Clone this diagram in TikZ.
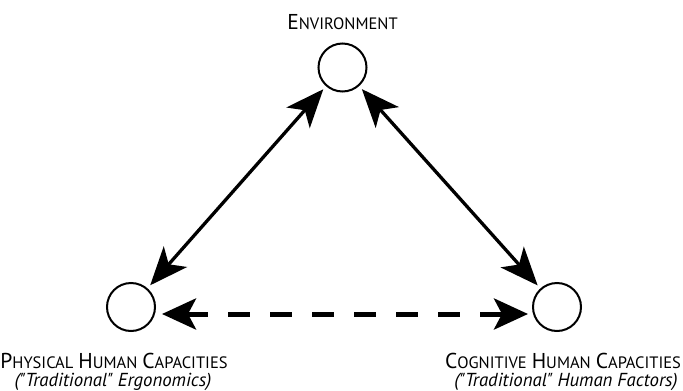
\documentclass[tikz,border=0pt]{standalone}
\usepackage{fontspec}
\setmainfont{PT Sans}
\usetikzlibrary{arrows.meta}
\newcommand\bigc[1]{{\fontsize{21.5}{24}\selectfont #1}}
\newcommand\smc[1]{{\fontsize{16.5}{20}\selectfont #1}}
\begin{document}
\begin{tikzpicture}[x=1pt,y=-1pt,
  circ/.style={circle,draw,line width=2pt,minimum size=48pt,inner sep=0pt},
  lbl/.style={inner sep=0pt,align=center,font=\fontsize{18.8}{22}\selectfont},
  solidarrow/.style={line width=3.3pt,{Stealth[length=38pt,width=31pt,inset=10pt]}-{Stealth[length=38pt,width=31pt,inset=10pt]},shorten <=4pt,shorten >=4pt},
  dasharrow/.style={line width=5pt,dash pattern=on 22pt off 20pt,{Stealth[length=34pt,width=31pt,inset=8pt]}-{Stealth[length=34pt,width=31pt,inset=8pt]}}]
\useasboundingbox (0,0) rectangle (683,391);
\node[circ] (E) at (342.5,67.5) {};
\node[circ] (P) at (131,307) {};
\node[circ] (C) at (557,307) {};
\node[lbl,anchor=base] (Et) at (342.5,29) {\bigc{E}\smc{NVIRONMENT}};
\node[lbl,anchor=base] (Pt) at (114,368) {\bigc{P}\smc{HYSICAL} \bigc{H}\smc{UMAN} \bigc{C}\smc{APACITIES}};
\node[lbl,anchor=base] (Pt2) at (113,386) {\itshape (\textquotedbl Traditional\textquotedbl\ Ergonomics)};
\node[lbl,anchor=base] (Ct) at (563,368) {\bigc{C}\smc{OGNITIVE} \bigc{H}\smc{UMAN} \bigc{C}\smc{APACITIES}};
\node[lbl,anchor=base] (Ct2) at (566,386) {\itshape (\textquotedbl Traditional\textquotedbl\ Human Factors)};
\draw[solidarrow] (E) -- (P);
\draw[solidarrow] (E) -- (C);
\draw[dasharrow] ([xshift=6pt,yshift=-7pt]P.east) -- ([xshift=-4pt,yshift=-7pt]C.west);
\end{tikzpicture}
\end{document}
